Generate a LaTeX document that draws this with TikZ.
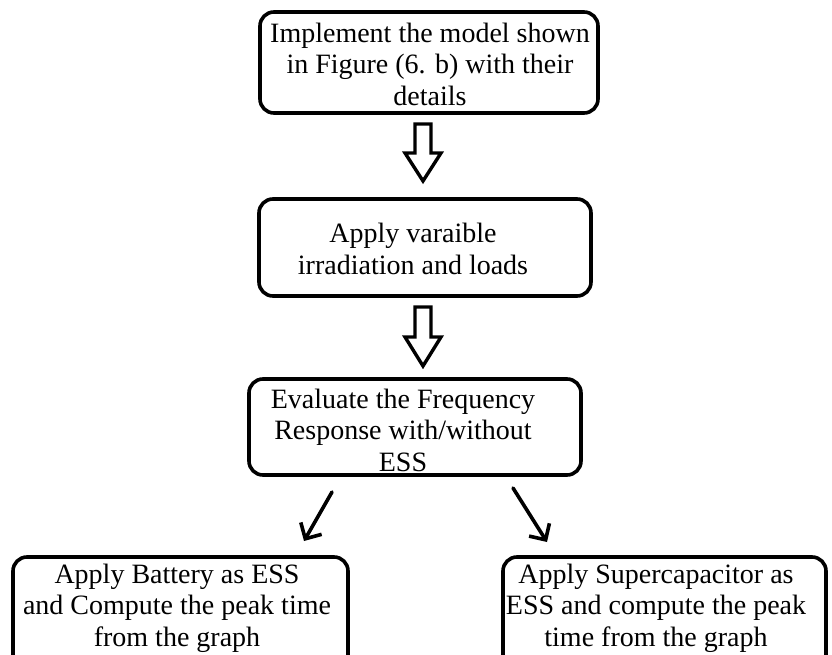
\documentclass[tikz,border=0pt]{standalone}
\usepackage{fontspec}
\setmainfont{Liberation Serif}
\usetikzlibrary{arrows.meta}
\begin{document}
\begin{tikzpicture}[x=1pt,y=-1pt,
  box/.style={draw, line width=3.6pt, rounded corners=14pt, inner sep=0pt},
  txt/.style={align=center, font=\fontsize{28}{31.5}\selectfont, inner sep=0pt},
  blockarrow/.style={draw, line width=3.4pt, fill=white, line join=miter},
  diag/.style={line width=3.6pt, line cap=round, -{Straight Barb[length=12pt,width=24pt,line width=3.6pt]}}]
\useasboundingbox (0,0) rectangle (832,655);
\clip (0,0) rectangle (832,655);
% boxes
\node[box, minimum width=338pt, minimum height=101pt] (b1) at (429,62.5) {};
\node[box, minimum width=332pt, minimum height=97pt] (b2) at (425,247.5) {};
\node[box, minimum width=332pt, minimum height=96pt] (b3) at (415,427) {};
\node[box, minimum width=335pt, minimum height=123pt] (b4) at (180.5,618.5) {};
\node[box, minimum width=323pt, minimum height=123pt] (b5) at (664.5,618.5) {};
% texts
\node[txt] (t1) at (430,64) {Implement the model shown\\ in Figure (6. b) with their\\details};
\node[txt] (t2) at (413,249) {Apply varaible\\irradiation and loads};
\node[txt] (t3) at (403,430) {Evaluate the Frequency\\Response with/without\\ESS};
\node[txt] (t4) at (177,608) {Apply Battery as ESS\\and Compute the peak time\\from the graph};
\node[txt] (t5) at (656,608) {Apply Supercapacitor as\\ESS and compute the peak\\time from the graph};
% hollow block arrows
\draw[blockarrow] (415,124) -- (431,124) -- (431,153) -- (441,153) -- (423,181) -- (405,153) -- (415,153) -- cycle;
\draw[blockarrow] (415,307) -- (431,307) -- (431,337) -- (441,337) -- (423,366) -- (405,337) -- (415,337) -- cycle;
% diagonal arrows
\coordinate (l1) at (332,492);
\coordinate (l2) at (304,541);
\coordinate (r1) at (513,488);
\coordinate (r2) at (547,542);
\draw[diag] (l1) -- (l2);
\draw[diag] (r1) -- (r2);
\end{tikzpicture}
\end{document}
